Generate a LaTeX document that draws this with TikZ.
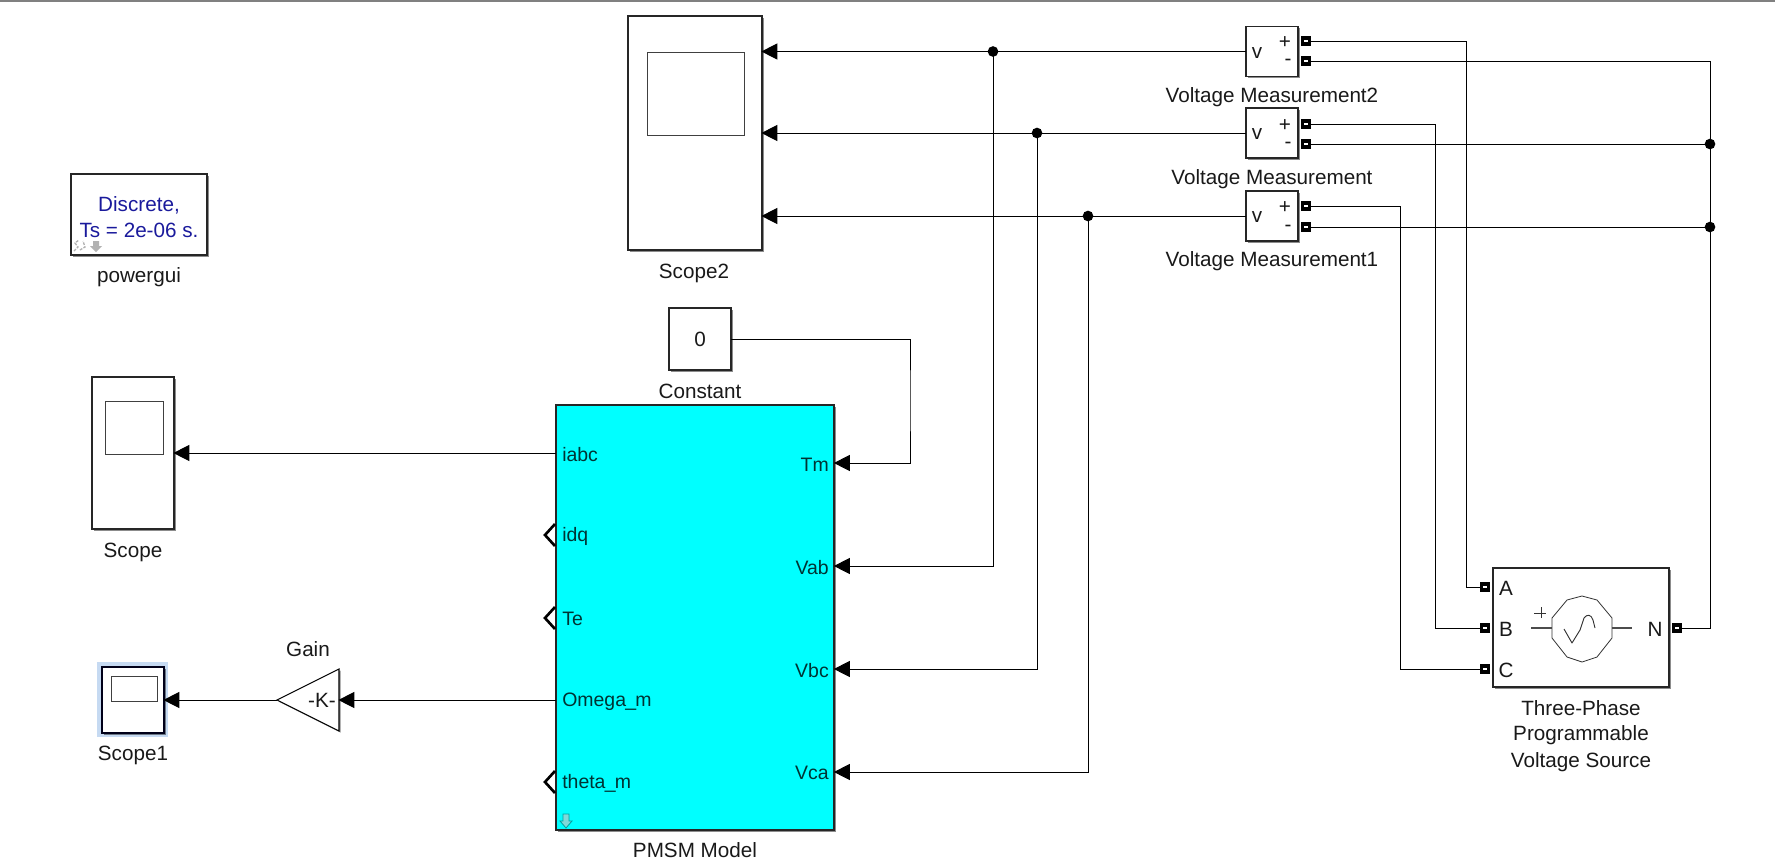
\documentclass[tikz,border=0pt]{standalone}
\usepackage{fontspec}
\setmainfont{Liberation Sans}
\usetikzlibrary{arrows.meta,shadows}
\definecolor{blockcyan}{HTML}{00FFFF}
\definecolor{guiblue}{HTML}{1A1A9C}
\definecolor{selectblue}{HTML}{C6DAF2}
\tikzset{
  size/.style 2 args={minimum width=#1*0.75pt, minimum height=#2*0.75pt},
  block/.style={draw=black!85, line width=1pt, fill=white, inner sep=0pt, outer sep=0pt,
    drop shadow={shadow xshift=1.2pt, shadow yshift=-1.2pt, opacity=0.45, fill=black}},
  screen/.style={draw=black!75, line width=0.6pt, inner sep=0pt, outer sep=0pt},
  lbl/.style={inner sep=0pt, yshift=-1pt, font=\fontsize{15.5}{18}\selectfont, text=black!90},
  portlbl/.style={lbl, font=\fontsize{14.6}{18}\selectfont, text=black!80!blockcyan},
  wire/.style={line width=0.75pt, black},
  sig/.style={wire, -{Triangle[length=12pt, width=12pt]}, shorten >=-0.5pt},
  port/.style={fill=black, draw=none, inner sep=0pt, outer sep=0pt, minimum size=7.5pt,
    path picture={\fill[white] (path picture bounding box.center) ++(-1.4pt,-1pt) rectangle ++(2.8pt,2pt);}},
  openport/.style={line width=2pt, black, line join=miter},
}
\begin{document}
\begin{tikzpicture}[x=0.75pt, y=-0.75pt]
\useasboundingbox (0,0) rectangle (1775,864);
\fill[black!50] (0,0) rectangle (1775,2);

% powergui
\node[block, size={136}{81}] (gui) at (139,214.5) {};
\node[lbl, text=guiblue] (guitop) at (139,204) {Discrete,};
\node[lbl, text=guiblue] (guibot) at (139,229) {Ts = 2e-06 s.};
\node[lbl] (guilbl) at (139,276) {powergui};
\draw[black!30, line width=1pt, dash pattern=on 2pt off 1pt] (74,251) -- (78,247) -- (75,243) -- (79,240);
\draw[black!30, line width=1pt, dash pattern=on 2pt off 1pt] (80,250) -- (85,247) -- (83,241);
\fill[black!30] (93,241) -- (99,241) -- (99,246) -- (102,246) -- (96,252) -- (90,246) -- (93,246) -- cycle;

% scopes
\node[block, size={134}{234}] (scopetwo) at (695,133) {};
\node[screen, size={97}{83}] (scrtwo) at (696,93.5) {};
\node[lbl] (scopetwolbl) at (694,272) {Scope2};

\node[block, size={82}{152}] (scopezero) at (133,453) {};
\node[screen, size={58}{53}] (scrzero) at (134,427.5) {};
\node[lbl] (scopezerolbl) at (133,551) {Scope};

\fill[selectblue] (97,662) rectangle (168,737);
\node[block, draw=black!90!blue, size={62}{66}] (scopeone) at (133,700) {};
\node[screen, size={46}{25}] (scrone) at (134,688.5) {};
\node[lbl] (scopeonelbl) at (133,754) {Scope1};

% gain
\coordinate (gaintip) at (277,700);
\coordinate (gainin) at (339,700);
\draw[line width=0.8pt, fill=white, drop shadow={shadow xshift=1.2pt, shadow yshift=-1.2pt, opacity=0.45, fill=black}]
  (gaintip) -- (339,669) -- (339,731) -- cycle;
\node[lbl] (gaink) at (322,699) {-K-};
\node[lbl] (gainlbl) at (308,648) {Gain};

% constant
\node[block, size={62}{62}] (const) at (700,339) {};
\node[lbl] (constval) at (700,338) {0};
\node[lbl] (constlbl) at (700,390) {Constant};

% motor block
\node[block, fill=blockcyan, size={278}{425}] (pmsm) at (695,617.5) {};
\node[lbl] (pmsmlbl) at (695,849) {PMSM Model};
\node[portlbl, anchor=west] (iabc) at (562,453) {iabc};
\node[portlbl, anchor=west] (idq) at (562,535) {idq};
\node[portlbl, anchor=west] (te) at (562,618) {Te};
\node[portlbl, anchor=west] (omega) at (562,700) {Omega\kern-0.6pt\_\kern-0.6pt m};
\node[portlbl, anchor=west] (theta) at (562,782) {theta\kern-0.6pt\_\kern-0.6pt m};
\node[portlbl, anchor=east] (tm) at (829,463) {Tm};
\node[portlbl, anchor=east] (vab) at (829,566) {Vab};
\node[portlbl, anchor=east] (vbc) at (829,669) {Vbc};
\node[portlbl, anchor=east] (vca) at (829,772) {Vca};
\draw[openport] (555,524) -- (545,535) -- (555,546);
\draw[openport] (555,607) -- (545,618) -- (555,629);
\draw[openport] (555,771) -- (545,782) -- (555,793);
\draw[black!10!blockcyan!70!black, line width=0.6pt, fill=blockcyan!70!black!50]
  (563,814) -- (569,814) -- (569,821) -- (572,821) -- (566,828) -- (560,821) -- (563,821) -- cycle;

% voltage measurements
\node[block, size={52}{50}] (vmtwo) at (1272,51.5) {};
\node[block, size={52}{50}] (vmone) at (1272,133) {};
\node[block, size={52}{50}] (vmthree) at (1272,216) {};
\node[lbl] (vmtwolbl) at (1272,96) {Voltage Measurement2};
\node[lbl] (vmonelbl) at (1272,178) {Voltage Measurement};
\node[lbl] (vmthreelbl) at (1272,260) {Voltage Measurement1};
\foreach \vm/\y/\yp/\ym in {vmtwo/51.5/41/61,vmone/133/124/144,vmthree/216/206/227}{
  \node[lbl] (\vm v) at (1257,\y) {v};
  \node[lbl] (\vm a) at (1285,\yp) {+};
  \node[lbl] (\vm b) at (1288,\ym) {-};
  \node[port] (\vm p) at (1306,\yp) {};
  \node[port] (\vm m) at (1306,\ym) {};
}

% three phase source
\node[block, size={176}{119}] (src) at (1581,627.5) {};
\node[lbl] (srclbla) at (1581,707) {Three-Phase};
\node[lbl] (srclblb) at (1581,734) {Programmable};
\node[lbl] (srclblc) at (1581,761) {Voltage Source};
\node[lbl] (lbla) at (1506,587) {A};
\node[lbl] (lblb) at (1506,628) {B};
\node[lbl] (lblc) at (1506,669) {C};
\node[lbl] (lbln) at (1655,628) {N};
\node[port] (srca) at (1485,587) {};
\node[port] (srcb) at (1485,628) {};
\node[port] (srcc) at (1485,669) {};
\node[port] (srcn) at (1677,628) {};
\draw[black!80, line width=0.6pt] (1552,618) -- (1567,600) -- (1582,596) -- (1597,600) -- (1612,618) -- (1612,638)
  -- (1597,657) -- (1582,662) -- (1567,657) -- (1552,638) -- cycle;
\draw[black!70, line width=0.8pt] (1531,628) -- (1552,628);
\draw[black!70, line width=0.8pt] (1612,628) -- (1632,628);
\draw[black!80, line width=0.6pt] (1534,613) -- (1546,613);
\draw[black!80, line width=0.6pt] (1541,607) -- (1541,618);
\draw[black!80, line width=0.7pt, line join=round] (1564,629) -- (1572,643) -- (1580,630) -- (1584,618)
  .. controls (1587,614) and (1591,614) .. (1593,620) -- (1595,628);

% junctions and bends
\coordinate (jab) at (993,51.5);
\coordinate (jbc) at (1037,133);
\coordinate (jca) at (1088,216);
\coordinate (busa) at (1466,300);
\coordinate (busb) at (1435,300);
\coordinate (busc) at (1400,300);
\coordinate (busn) at (1710,300);
\coordinate (jnb) at (busn |- vmonem);
\coordinate (jnc) at (busn |- vmthreem);
\coordinate (consttm) at (910,400);
\coordinate (intm) at (834.5,463);
\coordinate (invab) at (834.5,566);
\coordinate (invbc) at (834.5,669);
\coordinate (invca) at (834.5,772);
\coordinate (outiabc) at (556,453);
\coordinate (outomega) at (556,700);

\fill (jab) circle[radius=4pt];
\fill (jbc) circle[radius=4pt];
\fill (jca) circle[radius=4pt];
\fill (jnb) circle[radius=4pt];
\fill (jnc) circle[radius=4pt];

\draw[sig] (vmtwo.west) -- (scopetwo.east |- vmtwo.west);
\draw[sig] (vmone.west) -- (scopetwo.east |- vmone.west);
\draw[sig] (vmthree.west) -- (scopetwo.east |- vmthree.west);
\draw[sig] (jab) |- (invab);
\draw[sig] (jbc) |- (invbc);
\draw[sig] (jca) |- (invca);
\draw[sig] (const.east) -| (consttm) |- (intm);
\draw[sig] (outiabc) -- (scopezero.east |- outiabc);
\draw[sig] (outomega) -- (gainin);
\draw[sig] (gaintip) -- (scopeone.east |- gaintip);

\draw[wire] (vmtwop.east) -| (busa) |- (srca.west);
\draw[wire] (vmonep.east) -| (busb) |- (srcb.west);
\draw[wire] (vmthreep.east) -| (busc) |- (srcc.west);
\draw[wire] (vmtwom.east) -| (busn) |- (srcn.east);
\draw[wire] (vmonem.east) -- (jnb);
\draw[wire] (vmthreem.east) -- (jnc);

\end{tikzpicture}
\end{document}
